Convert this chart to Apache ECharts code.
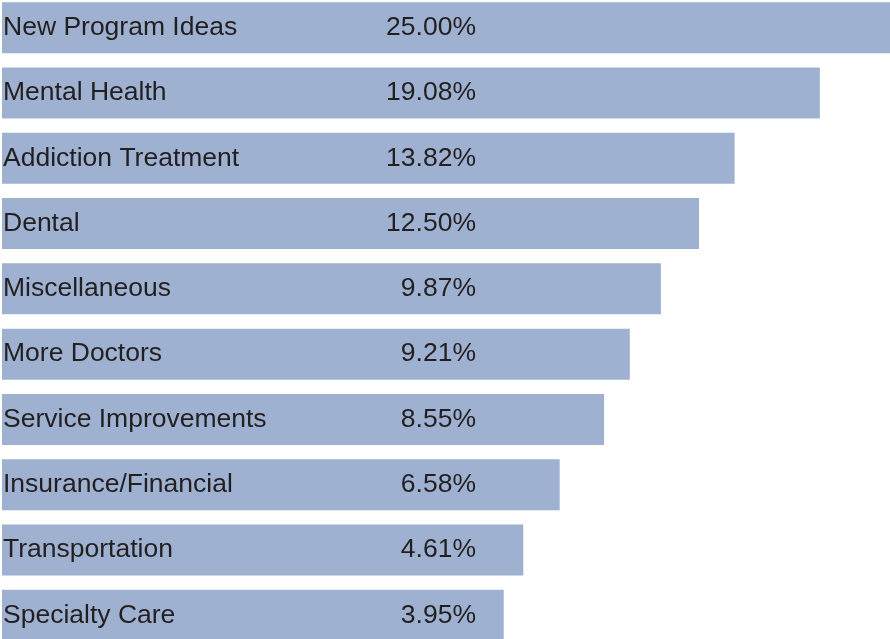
<!DOCTYPE html>
<html>
<head>
<meta charset="utf-8">
<script src="https://cdn.jsdelivr.net/npm/echarts@6/dist/echarts.min.js"></script>
<style>
html,body{margin:0;padding:0;background:#fff;}
#chart{width:890px;height:639px;}
</style>
</head>
<body>
<div id="chart"></div>
<script>
// Categories (top to bottom)
var categories = ["New Program Ideas", "Mental Health", "Addiction Treatment", "Dental", "Miscellaneous", "More Doctors", "Service Improvements", "Insurance/Financial", "Transportation", "Specialty Care"];
// Percentages shown as labels
var percentValues = [25.00, 19.08, 13.82, 12.50, 9.87, 9.21, 8.55, 6.58, 4.61, 3.95];
// Bar extents as drawn in the picture (percent of the longest bar)
var barExtent = [100, 92.1, 82.5, 78.5, 74.2, 70.7, 67.8, 62.8, 58.7, 56.5];

var chart = echarts.init(document.getElementById('chart'), null, {renderer: 'canvas'});
var seriesData = barExtent.map(function (v, i) {
  return { value: v, pct: percentValues[i] };
});
var option = {
  animation: false,
  backgroundColor: '#ffffff',
  grid: { left: 2, right: 0, top: -5, bottom: -9, containLabel: false, outerBoundsMode: 'none' },
  xAxis: {
    type: 'value', min: 0, max: 100,
    show: false
  },
  yAxis: {
    type: 'category', data: categories, inverse: true,
    axisLine: { show: false }, axisTick: { show: false }, splitLine: { show: false },
    axisLabel: {
      inside: true, margin: 1, color: '#231f20',
      fontFamily: 'Liberation Sans, Arial, Helvetica, sans-serif', fontSize: 26.5,
      align: 'left', verticalAlign: 'middle'
    },
    z: 10
  },
  series: [{
    type: 'bar',
    data: seriesData,
    barWidth: 51,
    itemStyle: { color: '#9eb1d1' },
    label: {
      show: true,
      position: [474, '50%'],
      align: 'right', verticalAlign: 'middle',
      color: '#231f20',
      fontFamily: 'Liberation Sans, Arial, Helvetica, sans-serif', fontSize: 26.5,
      formatter: function (p) { return percentValues[p.dataIndex].toFixed(2) + '%'; }
    }
  }]
};
chart.setOption(option);
</script>
</body>
</html>
